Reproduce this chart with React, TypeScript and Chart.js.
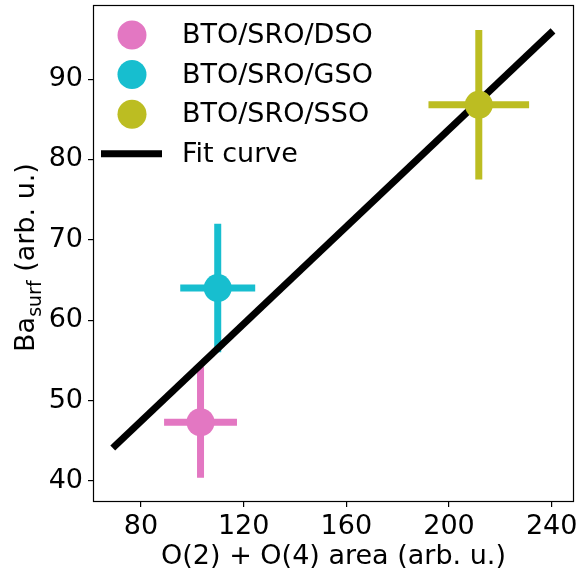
import React, { useEffect, useRef } from "react";
import { Chart, registerables } from "chart.js";

Chart.register(...registerables);

// ---- data ----
const seriesLabels = ["BTO/SRO/DSO", "BTO/SRO/GSO", "BTO/SRO/SSO"];
const seriesColors = ["#e377c2", "#17becf", "#bcbd22"];
const xValues = [103.2, 109.9, 211.6];
const yValues = [47.3, 64.0, 86.8];
const xErrors = [14.2, 14.6, 19.6];
const yErrors = [6.9, 8.0, 9.3];

const fitLabel = "Fit curve";
const fitX = [69, 240.5];
const fitY = [44.1, 96.0];

const xTicks = [80, 120, 160, 200, 240];
const yTicks = [40, 50, 60, 70, 80, 90];

const xTitle = "O(2) + O(4) area (arb. u.)";
const yTitleMain = "Ba";
const yTitleSub = "surf";
const yTitleRest = " (arb. u.)";

const FONT = '"DejaVu Sans", sans-serif';

const decorations = {
  id: "decorations",
  beforeDatasetsDraw(chart: any) {
    const { ctx, scales } = chart;
    const x = scales.x;
    const y = scales.y;
    ctx.save();
    ctx.lineWidth = 7;
    ctx.lineCap = "butt";
    for (let i = 0; i < xValues.length; i++) {
      ctx.strokeStyle = seriesColors[i];
      const px = x.getPixelForValue(xValues[i]);
      const py = y.getPixelForValue(yValues[i]);
      ctx.beginPath();
      ctx.moveTo(x.getPixelForValue(xValues[i] - xErrors[i]), py);
      ctx.lineTo(x.getPixelForValue(xValues[i] + xErrors[i]), py);
      ctx.moveTo(px, y.getPixelForValue(yValues[i] - yErrors[i]));
      ctx.lineTo(px, y.getPixelForValue(yValues[i] + yErrors[i]));
      ctx.stroke();
    }
    ctx.restore();
  },
  afterDraw(chart: any) {
    const { ctx, chartArea: a } = chart;
    ctx.save();
    // frame (spines)
    ctx.strokeStyle = "#000";
    ctx.lineWidth = 1.2;
    ctx.strokeRect(a.left - 0.5, a.top - 0.5, a.right - a.left + 1, a.bottom - a.top + 1);

    // legend
    ctx.font = `27px ${FONT}`;
    ctx.textBaseline = "middle";
    ctx.textAlign = "left";
    const rowH = 39.6;
    const top0 = a.top + 29;
    const mx = a.left + 38;
    const tx = a.left + 88;
    for (let i = 0; i < seriesLabels.length; i++) {
      const cy = top0 + rowH * i;
      ctx.fillStyle = seriesColors[i];
      ctx.beginPath();
      ctx.arc(mx, cy, 14.5, 0, Math.PI * 2);
      ctx.fill();
      ctx.fillStyle = "#000";
      ctx.fillText(seriesLabels[i], tx, cy + 1);
    }
    const fy = top0 + rowH * 3;
    ctx.strokeStyle = "#000";
    ctx.lineWidth = 7;
    ctx.lineCap = "butt";
    ctx.beginPath();
    ctx.moveTo(a.left + 7, fy);
    ctx.lineTo(a.left + 68, fy);
    ctx.stroke();
    ctx.fillStyle = "#000";
    ctx.fillText(fitLabel, tx, fy + 1);

    // x title
    ctx.textBaseline = "alphabetic";
    ctx.textAlign = "center";
    ctx.font = `27px ${FONT}`;
    ctx.fillText(xTitle, (a.left + a.right) / 2, 564);

    // y title with subscript
    ctx.save();
    ctx.translate(34, (a.top + a.bottom) / 2 + 4);
    ctx.rotate(-Math.PI / 2);
    ctx.textAlign = "left";
    const mainFont = `27px ${FONT}`;
    const subFont = `19px ${FONT}`;
    ctx.font = mainFont;
    const w1 = ctx.measureText(yTitleMain).width;
    const w3 = ctx.measureText(yTitleRest).width;
    ctx.font = subFont;
    const w2 = ctx.measureText(yTitleSub).width;
    let sx = -(w1 + w2 + w3) / 2;
    ctx.font = mainFont;
    ctx.fillText(yTitleMain, sx, 0);
    sx += w1;
    ctx.font = subFont;
    ctx.fillText(yTitleSub, sx, 7);
    sx += w2;
    ctx.font = mainFont;
    ctx.fillText(yTitleRest, sx, 0);
    ctx.restore();

    ctx.restore();
  },
};

function zeroPad(s: any) {
  s.paddingTop = 0;
  s.paddingBottom = 0;
  s.paddingLeft = 0;
  s.paddingRight = 0;
}

export default function App() {
  const ref = useRef<HTMLCanvasElement>(null);
  useEffect(() => {
    if (!ref.current) return;
    const datasets: any[] = seriesLabels.map((label, i) => ({
      type: "scatter",
      label,
      data: [{ x: xValues[i], y: yValues[i] }],
      backgroundColor: seriesColors[i],
      borderWidth: 0,
      pointRadius: 14,
      pointHoverRadius: 14,
      order: 0,
    }));
    datasets.push({
      type: "line",
      label: fitLabel,
      data: fitX.map((x, i) => ({ x, y: fitY[i] })),
      borderColor: "#000",
      borderWidth: 7,
      borderCapStyle: "butt",
      pointRadius: 0,
      fill: false,
      order: 1,
    });
    const chart = new Chart(ref.current, {
      type: "scatter",
      data: { datasets },
      options: {
        animation: false,
        responsive: false,
        events: [],
        layout: { autoPadding: false, padding: { top: 6, right: 6, left: 0, bottom: 0 } },
        plugins: { legend: { display: false }, tooltip: { enabled: false } },
        scales: {
          x: {
            type: "linear",
            min: 61.7,
            max: 248.3,
            afterBuildTicks: (s: any) => {
              s.ticks = xTicks.map((v) => ({ value: v }));
            },
            afterFit: (s: any) => {
              s.height = 75;
              zeroPad(s);
            },
            border: { display: false },
            grid: { drawOnChartArea: false, drawTicks: true, tickLength: 6, color: "#000", lineWidth: 1.2 },
            ticks: { color: "#000", font: { family: FONT, size: 27 }, padding: 4, maxRotation: 0, autoSkip: false },
          },
          y: {
            type: "linear",
            min: 37.5,
            max: 99.1,
            afterBuildTicks: (s: any) => {
              s.ticks = yTicks.map((v) => ({ value: v }));
            },
            afterFit: (s: any) => {
              s.width = 94;
              zeroPad(s);
            },
            border: { display: false },
            grid: { drawOnChartArea: false, drawTicks: true, tickLength: 6, color: "#000", lineWidth: 1.2 },
            ticks: { color: "#000", font: { family: FONT, size: 27 }, padding: 5, autoSkip: false },
          },
        },
      },
      plugins: [decorations],
    });
    return () => chart.destroy();
  }, []);
  return (
    <div style={{ position: "absolute", left: 0, top: 0, width: 579, height: 576, background: "#fff" }}>
      <canvas ref={ref} width={579} height={576} style={{ display: "block", width: 579, height: 576 }} />
    </div>
  );
}
